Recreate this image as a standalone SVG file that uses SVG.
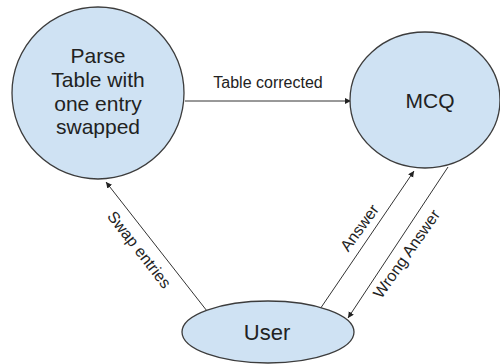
<svg xmlns="http://www.w3.org/2000/svg" width="500" height="364" viewBox="0 0 500 364">
<defs>
<style>
.node{fill:#cfe2f3;stroke:#3c3c3c;stroke-width:1.3}
.nt{font-family:"Liberation Sans",Arial,sans-serif;font-size:21px;fill:#222;text-anchor:middle}
.edge{stroke:#333;stroke-width:1;fill:none;marker-end:url(#ah)}
.lbl{font-family:"Liberation Sans",Arial,sans-serif;font-size:16px;fill:#222;text-anchor:middle}
</style>
<marker id="ah" markerWidth="8" markerHeight="8" refX="6" refY="3" orient="auto" markerUnits="userSpaceOnUse">
<path d="M0,0 L6,3 L0,6 Z" fill="#222"/>
</marker>
</defs>
<rect width="500" height="364" fill="#fff"/>
<g id="connectors">
<line class="edge" x1="185" y1="101" x2="351" y2="101"/>
<line class="edge" x1="207" y1="311" x2="106" y2="182"/>
<line class="edge" x1="318" y1="312" x2="414" y2="171"/>
<line class="edge" x1="448" y1="167" x2="348" y2="318"/>
<text class="lbl" x="268" y="88">Table corrected</text>
<text class="lbl" transform="translate(135,253) rotate(52)">Swap entries</text>
<text class="lbl" transform="translate(364,231) rotate(-54)">Answer</text>
<text class="lbl" transform="translate(411,257) rotate(-55)">Wrong Answer</text>
</g>
<g id="parse">
<ellipse class="node" cx="98" cy="93" rx="86" ry="86"/>
<text class="nt" x="98" y="63">Parse</text>
<text class="nt" x="98" y="87">Table with</text>
<text class="nt" x="98" y="111">one entry</text>
<text class="nt" x="98" y="134">swapped</text>
</g>
<g id="mcq">
<ellipse class="node" cx="425" cy="100" rx="75" ry="68"/>
<text class="nt" x="430" y="108">MCQ</text>
</g>
<g id="user">
<ellipse class="node" cx="268" cy="332" rx="86" ry="31"/>
<text class="nt" x="267" y="340" style="font-size:22px">User</text>
</g>
</svg>
